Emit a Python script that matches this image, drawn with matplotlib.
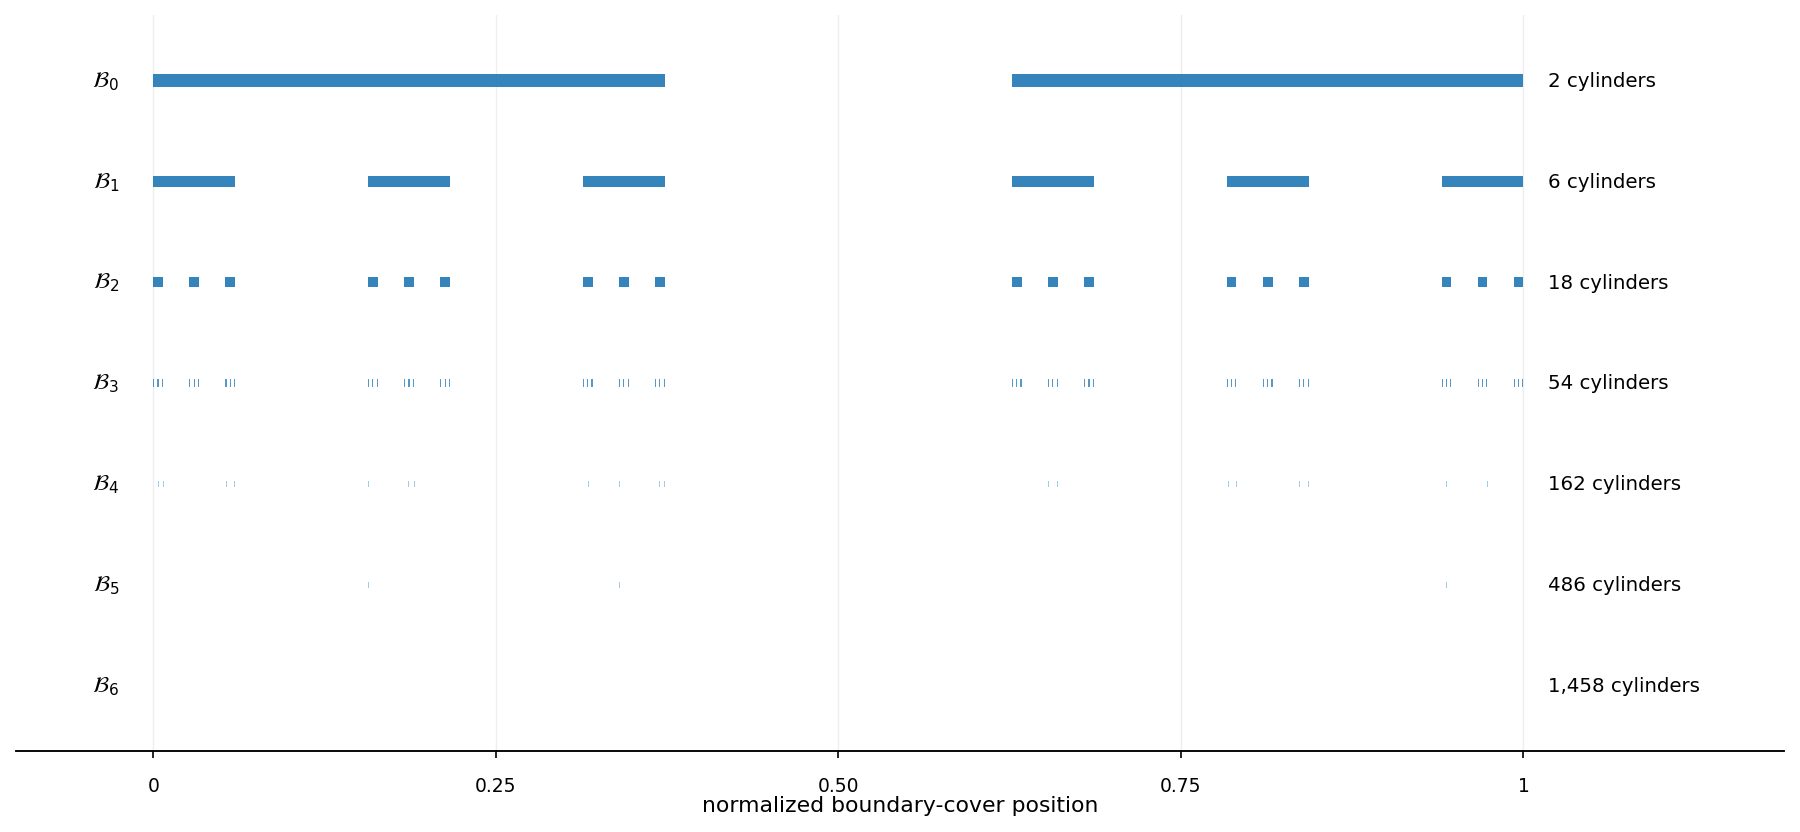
import matplotlib
matplotlib.use("Agg")
import matplotlib.pyplot as plt

# cylinder starts per level (normalized boundary-cover position)
b0_starts = [0.0, 0.6267]
b0_width = 0.3733

b1_starts = [0.0, 0.1568, 0.3136, 0.6267, 0.7835, 0.9403]
b1_width = 0.0597

b2_starts = [0.0, 0.0264, 0.0527,
             0.1568, 0.1832, 0.2095,
             0.3136, 0.3400, 0.3663,
             0.6267, 0.6531, 0.6794,
             0.7835, 0.8099, 0.8362,
             0.9403, 0.9667, 0.9930]
b2_width = 0.0070

b3_starts = [0.0000, 0.0031, 0.0062, 0.0264, 0.0295, 0.0326, 0.0527, 0.0558, 0.0589,
             0.1568, 0.1599, 0.1630, 0.1832, 0.1863, 0.1894, 0.2095, 0.2126, 0.2157,
             0.3136, 0.3167, 0.3198, 0.3400, 0.3431, 0.3462, 0.3663, 0.3694, 0.3725,
             0.6267, 0.6298, 0.6329, 0.6531, 0.6562, 0.6593, 0.6794, 0.6825, 0.6856,
             0.7835, 0.7866, 0.7897, 0.8099, 0.8130, 0.8161, 0.8362, 0.8393, 0.8424,
             0.9403, 0.9434, 0.9465, 0.9667, 0.9698, 0.9729, 0.9930, 0.9961, 0.9992]
b3_width = 0.0008

# only the cylinders that are visible at this resolution
b4_visible = [0.0036, 0.0072, 0.0531, 0.0593, 0.1568, 0.1862, 0.1904,
              0.3175, 0.3399, 0.3691, 0.3730,
              0.6533, 0.6596, 0.6834, 0.7843, 0.7900, 0.8360, 0.8426,
              0.9437, 0.9672, 0.9736]
b5_visible = [0.1568, 0.3399, 0.9438]

level_labels = [r"$\mathcal{B}_0$", r"$\mathcal{B}_1$", r"$\mathcal{B}_2$", r"$\mathcal{B}_3$",
                r"$\mathcal{B}_4$", r"$\mathcal{B}_5$", r"$\mathcal{B}_6$"]
cylinder_counts = [2, 6, 18, 54, 162, 486, 1458]

xticks = [0, 0.25, 0.5, 0.75, 1]
xtick_labels = ["0", "0.25", "0.50", "0.75", "1"]

color = "#1f77b4"
bar_heights = [0.13, 0.112, 0.096, 0.08, 0.066, 0.058]

fig = plt.figure(figsize=(12, 5.553), dpi=150)
ax = fig.add_axes([0.009, 0.097, 0.982, 0.884])

levels = [
    (b0_starts, b0_width, 0.9),
    (b1_starts, b1_width, 0.9),
    (b2_starts, b2_width, 0.9),
    (b3_starts, b3_width, 0.75),
    (b4_visible, 0.0006, 0.4),
    (b5_visible, 0.0006, 0.4),
]
for lvl, (starts, w, a) in enumerate(levels):
    h = bar_heights[lvl]
    ax.broken_barh([(s, w) for s in starts], (lvl - h / 2, h),
                   facecolors=color, alpha=a, edgecolor="none")

for lvl, (lab, n) in enumerate(zip(level_labels, cylinder_counts)):
    ax.text(-0.025, lvl, lab, ha="right", va="center", fontsize=10.5)
    ax.text(1.018, lvl, f"{n:,} cylinders", ha="left", va="center", fontsize=9.5)

ax.set_xlim(-0.1, 1.19)
ax.set_ylim(6.65, -0.65)
ax.set_xticks(xticks)
ax.set_xticklabels(xtick_labels, fontsize=9)
ax.tick_params(axis="x", pad=8.5)
ax.set_yticks([])
ax.set_xlabel("normalized boundary-cover position", fontsize=10.5, labelpad=0)
for x in xticks:
    ax.axvline(x, color="#eeeeee", linewidth=0.7, zorder=0)
for side in ["left", "right", "top"]:
    ax.spines[side].set_visible(False)
ax.spines["bottom"].set_linewidth(0.9)

fig.savefig("out.png", dpi=150)
